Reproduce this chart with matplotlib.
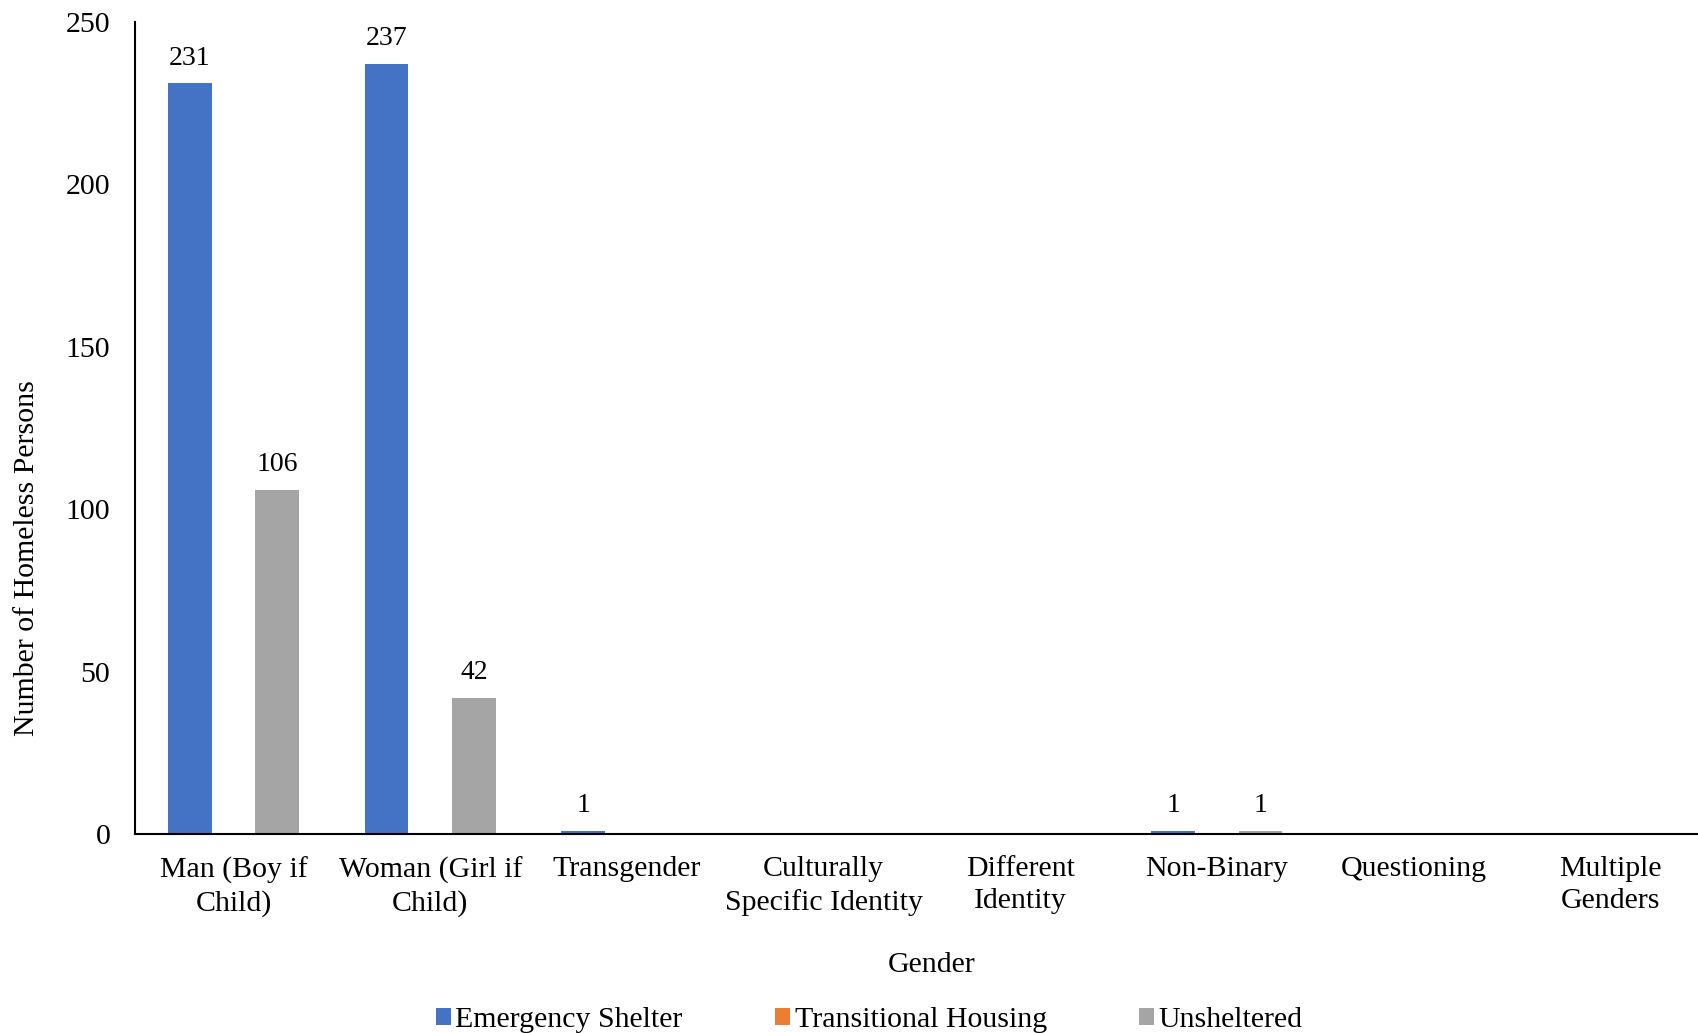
import matplotlib
matplotlib.use("Agg")
import matplotlib.pyplot as plt
import numpy as np

plt.rcParams['font.family'] = ['Liberation Serif', 'DejaVu Serif']

# chart data
categories = ["Man (Boy if\nChild)", "Woman (Girl if\nChild)", "Transgender",
              "Culturally\nSpecific Identity", "Different\nIdentity", "Non-Binary",
              "Questioning", "Multiple\nGenders"]
emergency_shelter = [231, 237, 1, 0, 0, 1, 0, 0]
transitional_housing = [0, 0, 0, 0, 0, 0, 0, 0]
unsheltered = [106, 42, 0, 0, 0, 1, 0, 0]

series = [
    ("Emergency Shelter", emergency_shelter, "#4472C4"),
    ("Transitional Housing", transitional_housing, "#ED7D31"),
    ("Unsheltered", unsheltered, "#A5A5A5"),
]

FS = 21.5

fig = plt.figure(figsize=(16.98, 10.33), dpi=100)
# plot area runs slightly past the right edge, like the original
ax = fig.add_axes([0.0797, 0.1926, 0.9264, 0.7864])

x = np.arange(len(categories))
width = 0.222
for i, (name, vals, color) in enumerate(series):
    bars = ax.bar(x + (i - 1) * width, vals, width, color=color, label=name)
    for b, v in zip(bars, vals):
        if v > 0:
            ax.annotate(str(v), (b.get_x() + b.get_width() / 2, v),
                        xytext=(0, 9), textcoords="offset points",
                        ha="center", va="bottom", fontsize=20)

ax.set_xlim(-0.5, len(categories) - 0.5)
ax.set_ylim(0, 250)
ax.set_yticks([0, 50, 100, 150, 200, 250])
ax.set_xticks(x)
ax.set_xticklabels(categories, fontsize=FS, linespacing=1.3)
ax.tick_params(axis="both", length=0, labelsize=FS)
ax.tick_params(axis="x", pad=16)
ax.tick_params(axis="y", pad=18)

for s in ["top", "right"]:
    ax.spines[s].set_visible(False)
ax.spines["left"].set_linewidth(1.5)
ax.spines["bottom"].set_linewidth(1.5)

ax.set_xlabel("Gender", fontsize=FS)
ax.xaxis.set_label_coords(0.506, -0.145)
ax.set_ylabel("Number of Homeless Persons", fontsize=FS)
ax.yaxis.set_label_coords(-0.0605, 0.34)

leg = fig.legend(loc="lower center", bbox_to_anchor=(0.512, -0.026), ncol=3,
                 frameon=False, fontsize=FS, handlelength=0.5, handleheight=0.5,
                 handletextpad=0.15, columnspacing=3.1)

fig.savefig("out.png", dpi=100)
